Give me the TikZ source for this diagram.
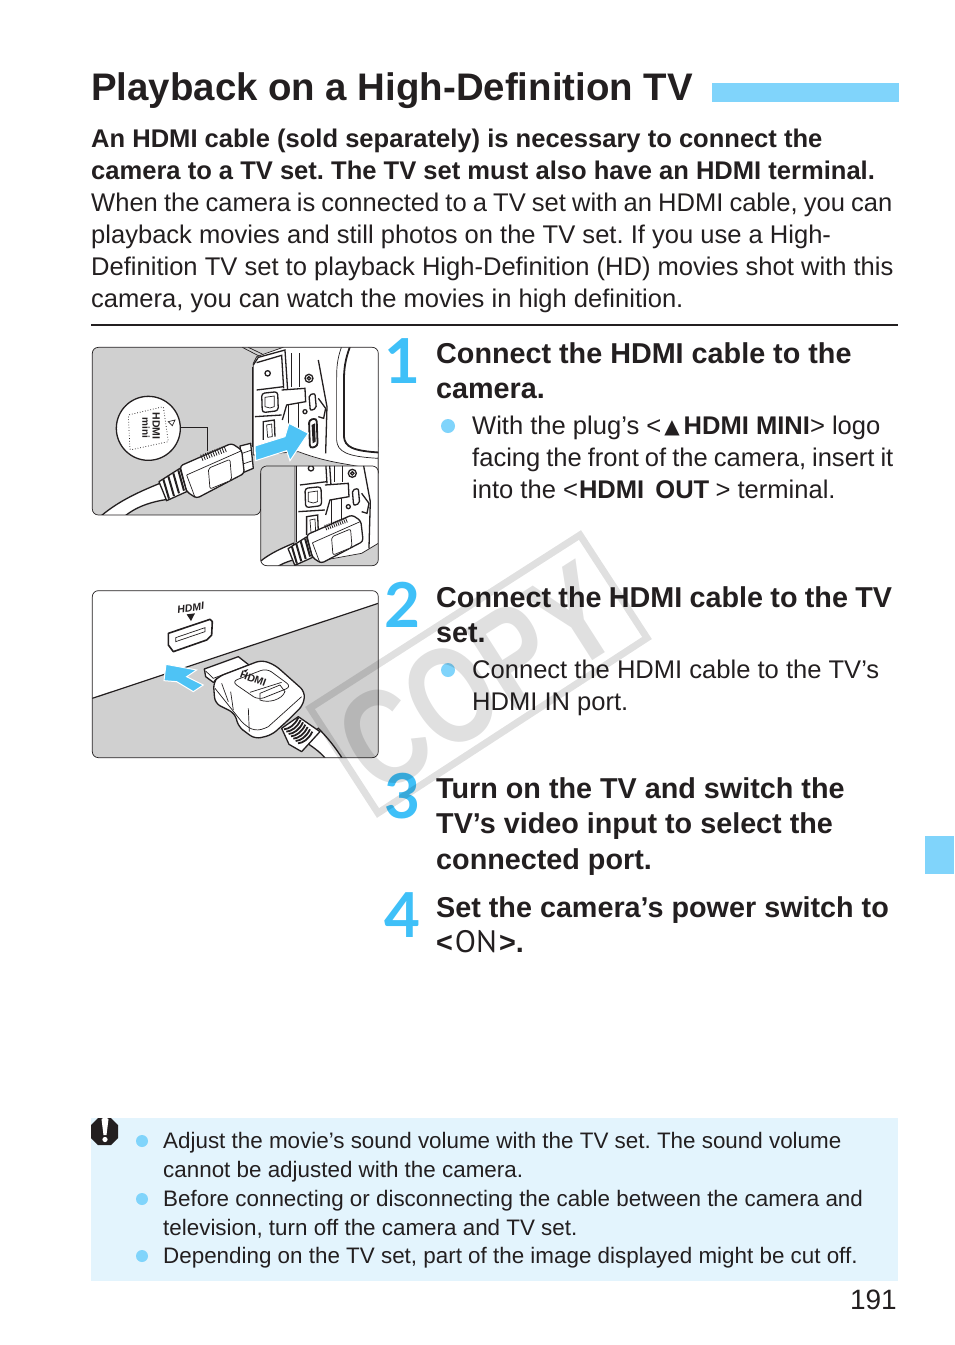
\documentclass[tikz,border=0pt]{standalone}
\usepackage{fontspec}
\setmainfont{Liberation Sans}
\newfontfamily\stepfont{Lato}
\newfontfamily\symbolfont{DejaVu Sans}
\newfontfamily\thinfont{PT Sans}
\definecolor{canonblue}{HTML}{80D4FB}
\definecolor{numblue}{HTML}{3FC0F8}
\definecolor{arrowblue}{HTML}{4EC3F5}
\definecolor{notebg}{HTML}{E3F4FD}
\definecolor{panelgray}{HTML}{D0D0D0}
\definecolor{ink}{HTML}{231F20}
\tikzset{
  titletext/.style={anchor=base west,inner sep=0pt,font=\fontsize{38.4}{44}\selectfont\bfseries\frenchspacing,text=ink},
  bodytext/.style={anchor=north west,inner sep=0pt,align=left,font=\fontsize{25.55}{32}\selectfont\frenchspacing,text=ink},
  steptext/.style={anchor=north west,inner sep=0pt,align=left,font=\fontsize{28.75}{35.4}\selectfont\bfseries\frenchspacing,text=ink},
  notetext/.style={anchor=north west,inner sep=0pt,align=left,font=\fontsize{22.4}{28.75}\selectfont\frenchspacing,text=ink},
  stepnum/.style={anchor=base,inner sep=0pt,font=\fontsize{62}{62}\selectfont\stepfont\bfseries,text=numblue},
  bulletdot/.style={circle,fill=canonblue,inner sep=0pt,minimum size=14pt},
  notedot/.style={circle,fill=canonblue,inner sep=0pt,minimum size=12pt},
  thin line/.style={draw=ink,line width=0.7pt},
  fat line/.style={draw=ink,line width=1.3pt},
  bluearrow/.style={fill=arrowblue,draw=white,line width=1pt,line join=miter},
  watermark/.style={draw=black,opacity=0.12,line width=7pt,line join=miter},
}
\newcommand{\camdetail}{%
  \draw[thin line] (503,80)--(503,320);
  \draw[fat line] (505,75)--(520,52)--(600,30)--(608,150);
  \draw[fat line] (515,68)--(590,46)--(596,145);
  \draw[fat line] (548,100) circle (8);
  \draw[fat line] (672,115) circle (12);
  \draw[fat line] (672,115) circle (5);
  \draw[fat line] (660,215) circle (6);
  \draw[fat line] (515,150)--(596,140) (510,230)--(590,225);
  \draw[fat line,fill=white,rounded corners=3pt] (530,160)--(578,155)--(580,212)--(532,218)--cycle;
  \draw[thin line,fill=white] (540,172)--(568,168)--(568,200)--(555,204)--(540,200)--cycle;
  \draw[fat line,fill=white] (590,150)--(660,145)--(662,185)--(605,195)--(592,240);
  \draw[fat line] (535,300)--(535,245)--(568,240)--(570,290);
  \draw[thin line,fill=white] (545,255)--(560,252)--(562,290)--(548,292)--cycle;
  \draw[fat line,fill=white,rounded corners=2pt] (672,165)--(690,160)--(694,205)--(676,212)--cycle;
  \draw[thin line] (618,40)--(618,140) (642,40)--(642,140);
  \draw[thin line] (610,195)--(610,270) (640,190)--(640,265);
  \draw[fat line] (700,60)--(726,200)--(722,340);
  \draw[fat line] (700,175)--(722,205)--(716,235)--(700,230);
}
\newcommand{\plugbody}{%
  \draw[fat line,fill=white,line join=round,rounded corners=3pt] (285,378)--(440,310)--(470,330)--(478,400)--(335,475)--(305,455)--cycle;
  \draw[thin line] (305,405)--(470,332) (305,405)--(330,472);
  \draw[thin line,fill=white,rounded corners=2pt] (370,385)--(435,358)--(440,420)--(375,447)--cycle;
  \foreach \i in {0,...,10}{\draw[draw=ink,line width=0.8pt] ({347+7*\i},{344-2.6*\i})--({354+7*\i},{362-2.6*\i});}
  \draw[fat line,fill=white,line join=round] (222,425)--(285,385)--(305,455)--(245,482)--cycle;
  \foreach \i in {0,...,3}{\draw[draw=ink,line width=2pt] ({235+15*\i},{418-9*\i}) -- ({252+15*\i},{476-8*\i});}
}
\begin{document}
\begin{tikzpicture}[x=1pt,y=-1pt]
\useasboundingbox (0,0) rectangle (954,1345);
\fill[white] (0,0) rectangle (954,1345);

% header
\node[titletext] (title) at (91,100) {Playback on a High-Definition TV};
\fill[canonblue] (712,83) rectangle (899,102);
\node[bodytext] (intro) at (91,129) {\bfseries An HDMI cable (sold separately) is necessary to connect the\\
\bfseries camera to a TV set. The TV set must also have an HDMI terminal.\\
{\spaceskip=6.1pt When the camera is connected to a TV set with an HDMI cable, you can}\\
playback movies and still photos on the TV set. If you use a High-\\
Definition TV set to playback High-Definition (HD) movies shot with this\\
camera, you can watch the movies in high definition.};
\draw[draw=ink,line width=1.5pt] (91,325)--(898,325);

% illustration 1
\begin{scope}[shift={(85,340)},scale=0.3333]
  \begin{scope}
    \clip[rounded corners=6pt] (22,22)--(880,22)--(880,400)--(527,400)--(527,525)--(22,525)--cycle;
    \fill[panelgray] (22,22) rectangle (880,525);
    \draw[thin line,fill=white] (505,70)--(515,50)--(600,20)--(880,20)--(880,390)--(780,372) .. controls (720,362) and (680,350) .. (640,335)--(505,345)--cycle;
    \draw[thin line] (472,22)--(522,48) (490,22)--(532,42);
    \camdetail
    \draw[draw=ink,line width=1.8pt,fill=white,rounded corners=3pt] (672,240)--(695,235)--(698,318)--(675,325)--cycle;
    \fill[ink] (680,255)--(690,250)--(692,305)--(683,310)--cycle;
    \draw[thin line,fill=white] (770,20) .. controls (755,60) and (755,90) .. (755,120)--(755,300) .. controls (757,335) and (785,350) .. (880,355)--(890,10)--cycle;
    \draw[draw=ink,line width=1.8pt] (795,20) .. controls (780,60) and (777,90) .. (777,120)--(777,290) .. controls (780,320) and (800,333) .. (890,338);
    % cable
    \draw[fat line,fill=white] (225,430) .. controls (150,460) and (90,490) .. (40,535)--(112,535) .. controls (150,500) and (200,485) .. (248,478)--cycle;
    \draw[fat line,fill=white,line join=round] (465,318)--(497,310)--(505,385)--(474,398)--cycle;
    \draw[thin line] (472,340)--(500,330) (474,372)--(503,362);
    \plugbody
    \draw[bluearrow] (510,318)--(600,290)--(612,250)--(670,280)--(615,362)--(605,332)--(512,362)--cycle;
  \end{scope}
  \draw[thin line,rounded corners=6pt] (527,400)--(527,525)--(22,525)--(22,22)--(880,22)--(880,400);
  % leader and magnifier
  \draw[thin line] (285,262)--(367,262)--(367,332);
  \node[circle,draw=ink,line width=1.3pt,fill=white,minimum size=64pt,inner sep=0pt] (lens) at (190,265) {};
  \draw[thin line,dotted,line width=0.8pt,rounded corners=1pt] (130,225)--(235,200)--(250,305)--(135,330)--cycle;
  \node[rotate=-90,inner sep=0pt,font=\fontsize{10.5}{10.5}\selectfont\bfseries,text=ink] (hdmiword) at (214,258) {HDMI};
  \node[rotate=-90,inner sep=0pt,font=\fontsize{10}{10}\selectfont\bfseries,text=ink] (miniword) at (183,263) {mini};
  \draw[thin line] (250,245)--(270,240)--(262,257)--cycle;
  % inset
  \begin{scope}
    \clip[rounded corners=6pt] (527,378) rectangle (880,677);
    \fill[panelgray] (527,378) rectangle (880,677);
    \draw[thin line,fill=white] (630,370)--(880,370)--(880,610)--(830,640)--(720,660)--(630,640)--cycle;
    \begin{scope}[shift={(130,285)}]\camdetail\end{scope}
    \draw[fat line,fill=white] (625,610) .. controls (590,625) and (555,640) .. (525,665)--(525,685)--(570,685) .. controls (590,670) and (620,660) .. (645,655)--cycle;
    \begin{scope}[shift={(414,252)},scale=0.88]\plugbody\end{scope}
  \end{scope}
  \draw[thin line,rounded corners=6pt] (527,378) rectangle (880,677);
\end{scope}

% illustration 2
\begin{scope}[shift={(85,585)},scale=0.3333]
  \begin{scope}
    \clip[rounded corners=6pt] (22,17) rectangle (880,518);
    \fill[panelgray] (22,340)--(880,55)--(880,518)--(22,518)--cycle;
    \draw[draw=ink,line width=1.2pt] (22,340)--(880,55);
    \draw[fat line,fill=white] (660,470) .. controls (690,490) and (710,505) .. (725,525)--(775,525) .. controls (750,485) and (725,455) .. (700,430)--cycle;
    \draw[fat line,fill=white,line join=round] (358,252)--(460,215)--(492,240)--(385,292)--(362,275)--cycle;
    \draw[thin line] (362,258)--(385,280)--(490,240);
    \draw[fat line,fill=white,line join=round,rounded corners=6pt] (385,292)--(400,275)--(530,225)--(570,240)--(660,320)--(655,360)--(610,405)--(560,450)--(510,462)--(460,425)--(450,385)--(390,355)--cycle;
    \draw[thin line] (410,295)--(430,350) (437,320)--(445,375) (490,370)--(493,440);
    \draw[thin line,rounded corners=6pt] (440,290)--(545,250)--(620,305)--(520,345)--cycle;
    \draw[thin line] (495,322)--(590,292) (525,325)--(585,300)--(600,320) .. controls (590,345) and (550,355) .. (525,345)--cycle;
    \draw[thin line] (390,310)--(470,410) .. controls (500,440) and (520,440) .. (550,425)--(650,335);
    \draw[fat line,fill=white,line join=round] (590,430)--(640,395)--(705,440)--(650,500)--(612,478)--cycle;
    \foreach \i in {0,...,6}{\draw[draw=ink,line width=1.8pt] ({597+7*\i},{433+7*\i}) .. controls ({612+7*\i},{432+7*\i}) and ({630+7*\i},{420+7*\i}) .. ({640+7*\i},{398+7*\i});}
  \end{scope}
  \draw[thin line,rounded corners=6pt] (22,17) rectangle (880,518);
  \node[rotate=-20,inner sep=0pt,font=\fontsize{10.5}{10.5}\selectfont\bfseries,text=ink] (plugword) at (505,281) {HDMI};
  \fill[ink] (475,257)--(490,252)--(482,262)--cycle;
  \node[rotate=8,inner sep=0pt,font=\fontsize{10.5}{10.5}\selectfont\bfseries\itshape,text=ink] (portword) at (317,68) {HDMI};
  \fill[ink] (305,88)--(330,85)--(318,108)--cycle;
  \draw[draw=ink,line width=1.6pt,fill=white,line join=round] (250,145)--(375,103)--(382,110)--(380,150)--(365,165)--(265,200)--(250,180)--cycle;
  \draw[thin line] (272,158)--(360,128)--(360,140)--(272,170)--cycle;
  \draw[bluearrow] (243,238)--(335,255)--(305,275)--(355,300)--(325,320)--(275,290)--(237,287)--cycle;
\end{scope}

% step 1
\node[stepnum] (n1) at (402,383) {1};
\node[steptext] (s1) at (436,342.5) {Connect the HDMI cable to the\\camera.};
\node[bulletdot] (b1) at (448,426) {};
\node[bodytext] (t1) at (472,416) {With the plug’s <\kern3pt\raisebox{1.5pt}{\fontsize{20}{20}\selectfont\symbolfont ▲}\kern4pt\textbf{HDMI MINI}> logo\\
{\spaceskip=6pt facing the front of the camera, insert it}\\
into the <\kern1pt\textbf{HDMI \kern4pt OUT}\kern2pt\,> terminal.};
% step 2
\node[stepnum] (n2) at (402,627) {2};
\node[steptext] (s2) at (436,586.5) {{\spaceskip=7.3pt Connect the HDMI cable to the TV}\\set.};
\node[bulletdot] (b2) at (448,670) {};
\node[bodytext] (t2) at (472,660) {Connect the HDMI cable to the TV’s\\HDMI IN port.};
% step 3
\node[stepnum] (n3) at (402,818) {3};
\node[steptext] (s3) at (436,777.5) {Turn on the TV and switch the\\TV’s video input to select the\\connected port.};
% step 4
\node[stepnum] (n4) at (402,937) {4};
\node[steptext] (s4) at (436,896.5) {Set the camera’s power switch to\\<\kern2pt{\mdseries\thinfont\fontsize{31}{35.4}\selectfont ON}\kern2pt>.};

% side tab
\fill[canonblue] (925,836) rectangle (954,874);

% notes
\fill[notebg] (91,1118) rectangle (898,1281);
\fill[ink] (98,1118)--(111,1118)--(118,1125)--(118,1138)--(111,1145)--(98,1145)--(91,1138)--(91,1125)--cycle;
\fill[white] (101.5,1119) .. controls (103,1117.5) and (107,1117.5) .. (108.5,1119)--(106.5,1135)--(103.5,1135)--cycle;
\fill[white] (105,1139.5) circle (2.6);
\node[notedot] (d1) at (142,1141) {};
\node[notedot] (d2) at (142,1199) {};
\node[notedot] (d3) at (142,1256) {};
\node[notetext] (notes) at (163,1132.5) {Adjust the movie’s sound volume with the TV set. The sound volume\\
cannot be adjusted with the camera.\\
Before connecting or disconnecting the cable between the camera and\\
television, turn off the camera and TV set.\\
Depending on the TV set, part of the image displayed might be cut off.};
\node[anchor=base east,inner sep=0pt,font=\fontsize{28}{32}\selectfont,text=ink] (page) at (897,1309) {191};

% watermark
\draw[watermark] (310,708)--(580,535)--(647,638)--(378,813)--cycle;
\node[rotate=32.6,xscale=0.76,transform shape,inner sep=0pt,opacity=0.12,font=\fontsize{138}{138}\selectfont\bfseries] (copy) at (478,678) {COPY};
\end{tikzpicture}
\end{document}
